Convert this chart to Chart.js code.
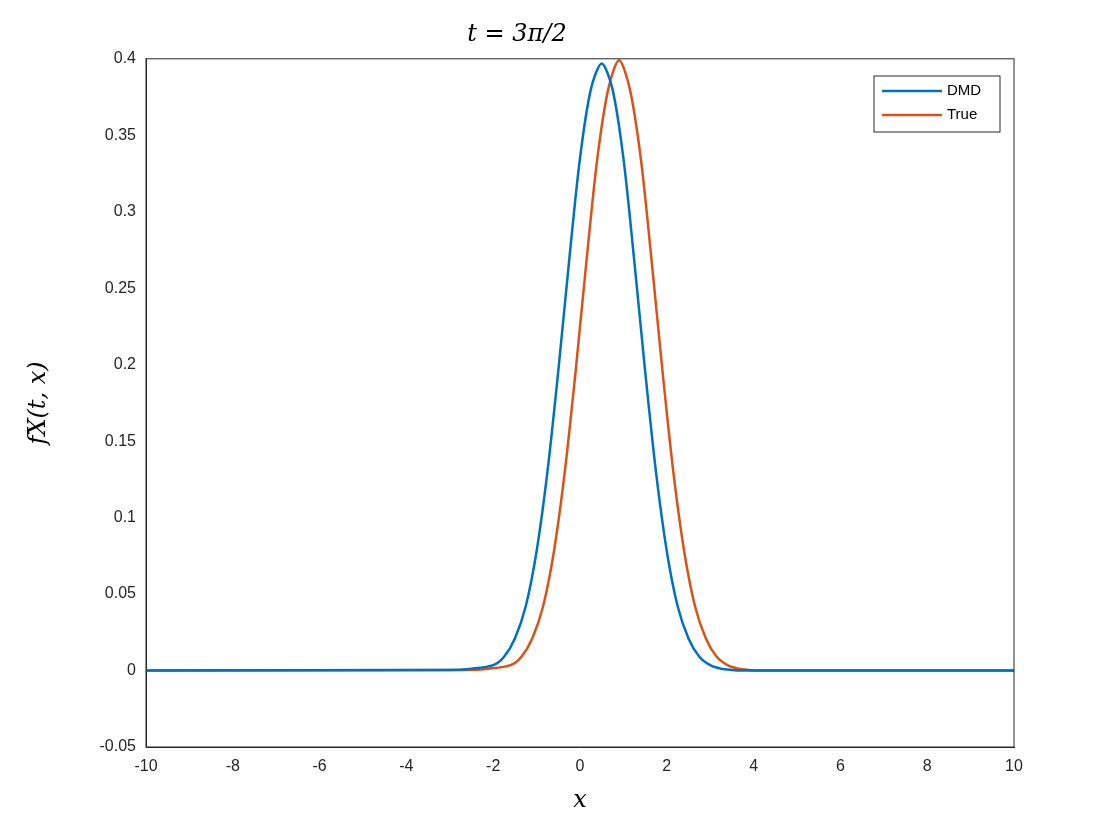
<!DOCTYPE html>
<html><head><meta charset="utf-8">
<script src="https://cdn.jsdelivr.net/npm/chart.js@4"></script>
<style>body{margin:0;background:#fff}#w{width:1120px;height:840px}</style>
</head><body><div id="w"><canvas id="c"></canvas></div>
<script>
const dmdX=[-10,-3,-2.5,-2,-1.75,-1.5,-1.25,-1,-0.75,-0.5,-0.25,0,0.25,0.5,0.75,1,1.25,1.5,1.75,2,2.25,2.5,2.75,3,3.25,3.5,3.75,4,4.5,10];
const dmdY=[0,0.0004,0.0012,0.0035,0.009,0.021,0.042,0.078,0.13,0.196,0.268,0.335,0.38,0.397,0.38,0.335,0.268,0.196,0.13,0.078,0.042,0.021,0.009,0.0035,0.0012,0.0004,0,0,0,0];
const trueX=[-10,-2.6,-2.1,-1.6,-1.35,-1.1,-0.85,-0.6,-0.35,-0.1,0.15,0.4,0.65,0.9,1.15,1.4,1.65,1.9,2.15,2.4,2.65,2.9,3.15,3.4,3.65,3.9,4.15,4.4,4.9,10];
const trueY=[0,0.0004,0.0012,0.0035,0.009,0.021,0.042,0.078,0.13,0.196,0.268,0.335,0.38,0.399,0.38,0.335,0.268,0.196,0.13,0.078,0.042,0.021,0.009,0.0035,0.0012,0.0004,0,0,0,0];
const xTicks=[-10,-8,-6,-4,-2,0,2,4,6,8,10];
const yTicks=[-0.05,0,0.05,0.1,0.15,0.2,0.25,0.3,0.35,0.4];
const pts=(xs,ys)=>xs.map((x,i)=>({x,y:ys[i]}));
const frame={id:'frame',afterDraw(ch){const a=ch.chartArea,c=ch.ctx;c.save();c.strokeStyle='#262626';c.lineWidth=1;c.strokeRect(a.left,a.top,a.right-a.left,a.bottom-a.top);
const lx=874,ly=76,lw=126,lh=56;c.fillStyle='#fff';c.fillRect(lx,ly,lw,lh);c.strokeRect(lx,ly,lw,lh);
const items=[['DMD','#0072BD'],['True','#D95319']];c.font='15px "Liberation Sans", Arial';c.textBaseline='middle';
items.forEach((it,i)=>{const y=ly+15+i*24;c.strokeStyle=it[1];c.lineWidth=2.5;c.beginPath();c.moveTo(lx+8,y);c.lineTo(lx+68,y);c.stroke();c.fillStyle='#000';c.fillText(it[0],lx+73,y);});
c.restore();}};
new Chart(document.getElementById('c'),{type:'scatter',
data:{datasets:[
{label:'DMD',data:pts(dmdX,dmdY),showLine:true,borderColor:'#0072BD',borderWidth:2.5,pointRadius:0,tension:0.3},
{label:'True',data:pts(trueX,trueY),showLine:true,borderColor:'#D95319',borderWidth:2.5,pointRadius:0,tension:0.3}]},
options:{responsive:true,maintainAspectRatio:false,animation:false,
layout:{padding:{left:20,right:106,top:20,bottom:21}},
plugins:{legend:{display:false},tooltip:{enabled:false},
title:{display:true,text:'t = 3π/2',font:{family:'"DejaVu Serif", serif',style:'italic',weight:'normal',size:24},color:'#000',padding:{top:0,bottom:10}}},
scales:{
x:{type:'linear',min:-10,max:10,afterBuildTicks:s=>{s.ticks=xTicks.map(v=>({value:v}))},
grid:{display:false,drawTicks:false},border:{color:'#262626'},
ticks:{color:'#262626',font:{size:16,family:'"Liberation Sans", Arial'},padding:10},
title:{display:true,text:'x',font:{family:'"DejaVu Serif", serif',style:'italic',size:24},color:'#000',padding:{top:0}}},
y:{min:-0.05,max:0.4,afterBuildTicks:s=>{s.ticks=yTicks.map(v=>({value:v}))},
grid:{display:false,drawTicks:false},border:{color:'#262626'},
afterFit:s=>{s.width=126},
ticks:{color:'#262626',font:{size:16,family:'"Liberation Sans", Arial'},padding:10,callback:v=>String(+v.toFixed(2))},
title:{display:true,text:'fX(t, x)',font:{family:'"DejaVu Serif", serif',style:'italic',size:24},color:'#000'}}}},
plugins:[frame]});
</script></body></html>
